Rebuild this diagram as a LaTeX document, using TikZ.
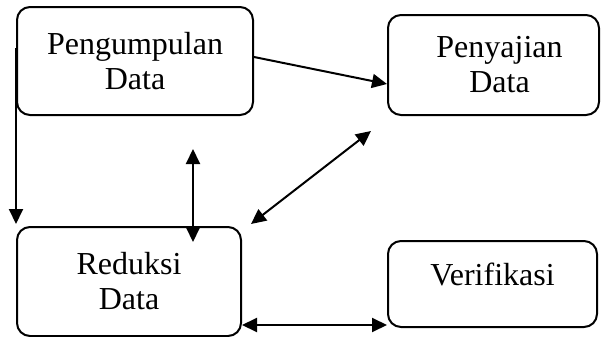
\documentclass[tikz,border=0pt]{standalone}
\usepackage{fontspec}
\setmainfont{Liberation Serif}
\usetikzlibrary{arrows.meta,calc}
\tikzset{
    kotak/.style={draw, line width=1pt, rounded corners=6.5pt, align=center,
      font=\fontsize{16}{17.5}\selectfont},
    panah/.style={line width=1pt, -{Triangle[length=7.5pt,width=7pt]}},
    panah2/.style={line width=1pt, {Triangle[length=7.5pt,width=7pt]}-{Triangle[length=7.5pt,width=7pt]}},
  }
\begin{document}
\begin{tikzpicture}[x=0.5pt,y=-0.5pt]
  %ukuran gambar
  \useasboundingbox (0,0) rectangle (601,337);
  %kotak
  \node[kotak, minimum width=118pt, minimum height=54pt] (pg) at (135,61) {Pengumpulan\\Data};
  \node[kotak, minimum width=105.5pt, minimum height=50pt] (pj) at (493.5,65) {\hspace{6pt}Penyajian\\\hspace{6pt}Data};
  \node[kotak, minimum width=112pt, minimum height=54.5pt] (rd) at (129,281.5) {Reduksi\\Data};
  \node[kotak, minimum width=104.5pt, minimum height=43pt, text depth=10pt] (vf) at (492.5,284) {Verifikasi};
  %titik bantu
  \coordinate (a1) at ([xshift=29pt,yshift=-16.5pt]pg.south);
  \coordinate (a2) at ([xshift=32pt,yshift=-8pt]rd.north);
  \coordinate (b1) at ([xshift=-8pt,yshift=-7.5pt]pj.south west);
  \coordinate (b2) at ([xshift=4.5pt,yshift=1pt]rd.north east);
  \coordinate (c1) at ([yshift=6pt]rd.south east);
  %panah
  \draw[panah] ([yshift=2pt]pg.east) -- ([yshift=-9.5pt]pj.west);
  \draw[panah] ([yshift=6.5pt]pg.west) -- ([yshift=1pt]rd.north west);
  \draw[panah2] (a1) -- (a2);
  \draw[panah2] (b1) -- (b2);
  \draw[panah2] (c1) -- (c1 -| vf.west);
\end{tikzpicture}
\end{document}
